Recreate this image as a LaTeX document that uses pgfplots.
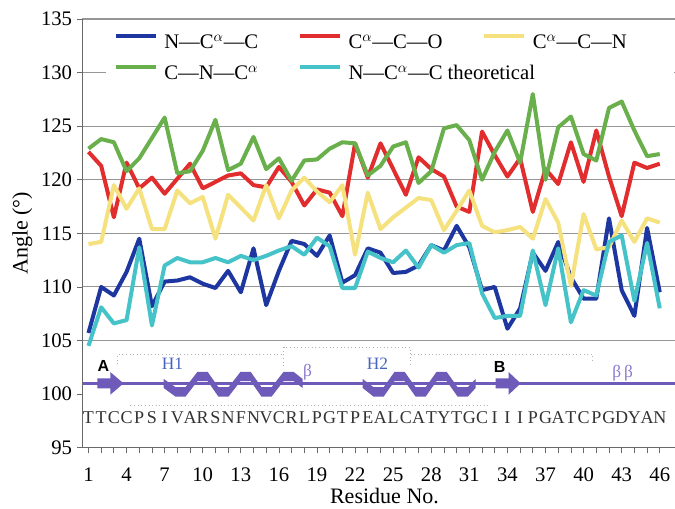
\documentclass[border=0pt]{standalone}
\usepackage{fontspec}
\setmainfont{Liberation Serif}
\newfontfamily\sansb{Liberation Sans}
\usepackage{pgfplots}
\pgfplotsset{compat=1.18}
\usepackage{pgfplotstable}

\definecolor{cblue}{RGB}{30,55,160}
\definecolor{cred}{RGB}{225,45,45}
\definecolor{cyel}{RGB}{245,225,125}
\definecolor{cgreen}{RGB}{105,175,75}
\definecolor{ccyan}{RGB}{70,195,200}
\definecolor{cpur}{RGB}{110,90,185}
\definecolor{chlab}{RGB}{70,100,190}
\definecolor{cbeta}{RGB}{140,120,205}
\definecolor{cgrid}{RGB}{150,150,150}

\pgfplotstableread{
x blue red yel green cyan
1 105.7 122.6 114.0 122.9 104.5
2 110.0 121.3 114.2 123.8 108.1
3 109.2 116.5 119.5 123.5 106.6
4 111.4 121.6 117.3 120.8 106.9
5 114.5 119.2 119.2 122.0 113.7
6 108.2 120.2 115.4 123.9 106.4
7 110.5 118.7 115.4 125.8 112.0
8 110.6 120.1 119.0 120.6 112.7
9 110.9 121.5 117.8 120.8 112.3
10 110.3 119.2 118.4 122.7 112.3
11 109.9 119.8 114.5 125.6 112.7
12 111.5 120.4 118.6 120.9 112.3
13 109.5 120.6 117.4 121.5 112.9
14 113.6 119.5 116.2 124.0 112.5
15 108.3 119.3 119.5 121.0 112.9
16 111.5 121.2 116.4 122.0 113.4
17 114.3 119.8 119.0 119.9 113.8
18 114.0 117.6 120.2 121.8 113.0
19 112.9 119.1 118.9 121.9 114.6
20 114.8 118.8 117.9 122.9 113.8
21 110.4 116.6 119.5 123.5 109.9
22 111.1 123.4 113.0 123.4 109.9
23 113.6 120.2 118.8 120.4 113.3
24 113.2 123.4 115.4 121.3 112.7
25 111.3 121.0 116.5 123.1 112.3
26 111.4 118.6 117.4 123.5 113.4
27 112.0 122.1 118.3 119.7 111.8
28 113.9 121.0 118.1 120.8 113.9
29 113.4 120.3 115.3 124.8 113.2
30 115.7 117.5 117.1 125.1 113.9
31 113.7 117.0 119.0 123.7 114.1
32 109.7 124.5 115.7 120.0 109.4
33 110.0 122.3 115.1 122.6 107.1
34 106.1 120.3 115.3 124.6 107.3
35 108.0 122.0 115.6 121.6 107.3
36 113.2 117.0 114.5 128.0 113.4
37 111.5 121.0 118.2 120.0 108.3
38 114.2 119.6 116.0 124.9 113.6
39 110.9 123.5 110.1 125.9 106.7
40 108.9 119.8 116.8 122.4 109.7
41 108.9 124.6 113.5 121.8 109.2
42 116.4 120.3 113.7 126.7 114.2
43 109.7 116.6 116.2 127.3 114.8
44 107.3 121.6 114.2 124.6 108.7
45 115.5 121.1 116.4 122.2 114.1
46 109.5 121.5 116.0 122.4 108.0
}\angles

\pgfplotstableread{
x y l
1 97.8 T
2 97.8 T
3 97.8 C
4 97.8 C
5 97.8 P
6 97.8 S
7 97.8 I
8 97.8 V
9 97.8 A
10 97.8 R
11 97.8 S
12 97.8 N
13 97.8 F
14 97.8 N
15 97.8 V
16 97.8 C
17 97.8 R
18 97.8 L
19 97.8 P
20 97.8 G
21 97.8 T
22 97.8 P
23 97.8 E
24 97.8 A
25 97.8 L
26 97.8 C
27 97.8 A
28 97.8 T
29 97.8 Y
30 97.8 T
31 97.8 G
32 97.8 C
33 97.8 I
34 97.8 I
35 97.8 I
36 97.8 P
37 97.8 G
38 97.8 A
39 97.8 T
40 97.8 C
41 97.8 P
42 97.8 G
43 97.8 D
44 97.8 Y
45 97.8 A
46 97.8 N
}\residues

\begin{document}
\begin{tikzpicture}
\begin{axis}[
  at={(0,0)}, anchor=south west,
  scale only axis, width=444pt, height=321pt,
  xmin=0.5, xmax=47.2, ymin=95, ymax=135,
  xtick={1,4,...,46}, minor xtick={1,...,46},
  ytick={95,100,...,135},
  axis x line*=bottom, axis y line*=left,
  ymajorgrids, grid style={cgrid, line width=0.8pt},
  tick align=outside, major tick length=4pt, minor tick length=4pt,
  tick style={cgrid!70!black, line width=0.6pt},
  axis line style={cgrid!70!black, line width=0.8pt},
  ticklabel style={font=\fontsize{15.5}{18}\selectfont},
  /pgf/number format/assume math mode=true,
  xticklabel style={anchor=center, inner sep=0pt, yshift=-16.5pt},
  label style={font=\fontsize{16.5}{19}\selectfont, inner sep=0pt},
  xlabel={Residue No.},
  ylabel={Angle (°)},
  xlabel style={at={(axis description cs:0.51,-0.113)}, anchor=center},
  ylabel style={at={(axis description cs:-0.101,0.5)}, anchor=center},
  legend columns=3,
  legend cell align=left,
  legend style={at={(axis description cs:0.039,0.989)}, anchor=north west,
    draw=none, fill=white, inner sep=6pt,
    font=\fontsize{15.5}{18}\selectfont,
    nodes={inner sep=0pt},
    /tikz/every odd column/.append style={column sep=5pt},
    /tikz/every even column/.append style={column sep=0pt},
    row sep=9pt},
  legend image code/.code={\draw[#1] (0pt,4pt) -- (30pt,4pt);},
  every axis plot/.append style={line width=3pt, line join=round},
]
% white backdrop of the structure diagram
\fill[white] (axis cs:0.56,95.25) rectangle (axis cs:47.2,104.6);

\addplot[cblue, mark=none] table[x=x, y=blue] {\angles};
\addlegendentry{\makebox[100pt][l]{\strut N---C$^{\alpha}$---C}}
\addplot[cred, mark=none] table[x=x, y=red] {\angles};
\addlegendentry{\makebox[100pt][l]{\strut C$^{\alpha}$---C---O}}
\addplot[cyel, mark=none] table[x=x, y=yel] {\angles};
\addlegendentry{\makebox[100pt][l]{\strut C$^{\alpha}$---C---N}}
\addplot[cgreen, mark=none] table[x=x, y=green] {\angles};
\addlegendentry{\makebox[100pt][l]{\strut C---N---C$^{\alpha}$}}
\addplot[ccyan, mark=none] table[x=x, y=cyan] {\angles};
\addlegendentry{\makebox[100pt][l]{\strut N---C$^{\alpha}$---C theoretical}}

% residue letters
\addplot[draw=none, mark=none, nodes near coords, point meta=explicit symbolic,
  every node near coord/.append style={anchor=center, inner sep=0pt,
  font=\fontsize{13.5}{15}\selectfont, text=black!80}]
  table[x=x, y=y, meta=l] {\residues};

% dotted boxes
\draw[gray!60, dotted, line width=0.7pt] (axis cs:3.29,102.8) -- (axis cs:3.29,103.69) -- (axis cs:16.37,103.69);
\draw[gray!60, dotted, line width=0.7pt] (axis cs:16.37,102.6) -- (axis cs:16.37,104.35) -- (axis cs:26.37,104.35) -- (axis cs:26.37,102.6);
\draw[gray!60, dotted, line width=0.7pt] (axis cs:26.37,103.69) -- (axis cs:40.72,103.69) -- (axis cs:40.72,102.9);
\draw[gray!60, dotted, line width=0.7pt] (axis cs:4.31,98.93) -- (axis cs:32.52,98.93);

% backbone line
\draw[cpur, line width=2.8pt] (axis cs:0.56,101) -- (axis cs:47.2,101);
% strand arrows
\fill[cpur] (axis cs:1.71,100.53) -- (axis cs:2.73,100.53) -- (axis cs:2.73,99.95) -- (axis cs:3.76,101) -- (axis cs:2.73,102.05) -- (axis cs:2.73,101.47) -- (axis cs:1.71,101.47) -- cycle;
\fill[cpur] (axis cs:33.07,100.53) -- (axis cs:34.10,100.53) -- (axis cs:34.10,99.95) -- (axis cs:35.04,101) -- (axis cs:34.10,102.05) -- (axis cs:34.10,101.47) -- (axis cs:33.07,101.47) -- cycle;
% helix ribbons
\fill[cpur] (axis cs:6.91,101.42) -- (axis cs:7.86,100.64) -- (axis cs:8.64,100.64) -- (axis cs:9.59,102.08) -- (axis cs:10.38,102.08) -- (axis cs:11.24,100.64) -- (axis cs:12.03,100.64) -- (axis cs:12.98,102.08) -- (axis cs:13.77,102.08) -- (axis cs:14.63,100.64) -- (axis cs:15.42,100.64) -- (axis cs:16.37,102.08) -- (axis cs:17.15,102.08) -- (axis cs:17.86,101.42)
 -- (axis cs:17.86,100.58) -- (axis cs:17.15,101.22) -- (axis cs:16.37,101.22) -- (axis cs:15.42,99.76) -- (axis cs:14.63,99.76) -- (axis cs:13.77,101.22) -- (axis cs:12.98,101.22) -- (axis cs:12.03,99.76) -- (axis cs:11.24,99.76) -- (axis cs:10.38,101.22) -- (axis cs:9.59,101.22) -- (axis cs:8.64,99.76) -- (axis cs:7.86,99.76) -- (axis cs:6.91,100.58) -- cycle;
\fill[cpur] (axis cs:22.59,101.42) -- (axis cs:23.46,100.64) -- (axis cs:24.25,100.64) -- (axis cs:25.11,102.08) -- (axis cs:25.90,102.08) -- (axis cs:26.77,100.64) -- (axis cs:27.56,100.64) -- (axis cs:28.42,102.08) -- (axis cs:29.21,102.08) -- (axis cs:30.08,100.64) -- (axis cs:30.87,100.64) -- (axis cs:31.50,101.42)
 -- (axis cs:31.50,100.58) -- (axis cs:30.87,99.76) -- (axis cs:30.08,99.76) -- (axis cs:29.21,101.22) -- (axis cs:28.42,101.22) -- (axis cs:27.56,99.76) -- (axis cs:26.77,99.76) -- (axis cs:25.90,101.22) -- (axis cs:25.11,101.22) -- (axis cs:24.25,99.76) -- (axis cs:23.46,99.76) -- (axis cs:22.59,100.58) -- cycle;

% structure labels
\node[font=\sansb\bfseries\fontsize{12}{14}\selectfont, text=black] at (axis cs:2.18,102.66) {A};
\node[font=\sansb\bfseries\fontsize{12}{14}\selectfont, text=black] at (axis cs:33.39,102.57) {B};
\node[font=\fontsize{13}{15}\selectfont, text=chlab] at (axis cs:7.62,102.85) {H1};
\node[font=\fontsize{13}{15}\selectfont, text=chlab] at (axis cs:23.77,102.85) {H2};
\node[font=\fontsize{13}{15}\selectfont, text=cbeta] at (axis cs:18.26,102.0) {β};
\node[font=\fontsize{13}{15}\selectfont, text=cbeta] at (axis cs:43.08,101.95) {β\,β};
\end{axis}
\pgfresetboundingbox
\path (-61.5pt,-45.75pt) rectangle (444pt,335.25pt);
\end{tikzpicture}
\end{document}
